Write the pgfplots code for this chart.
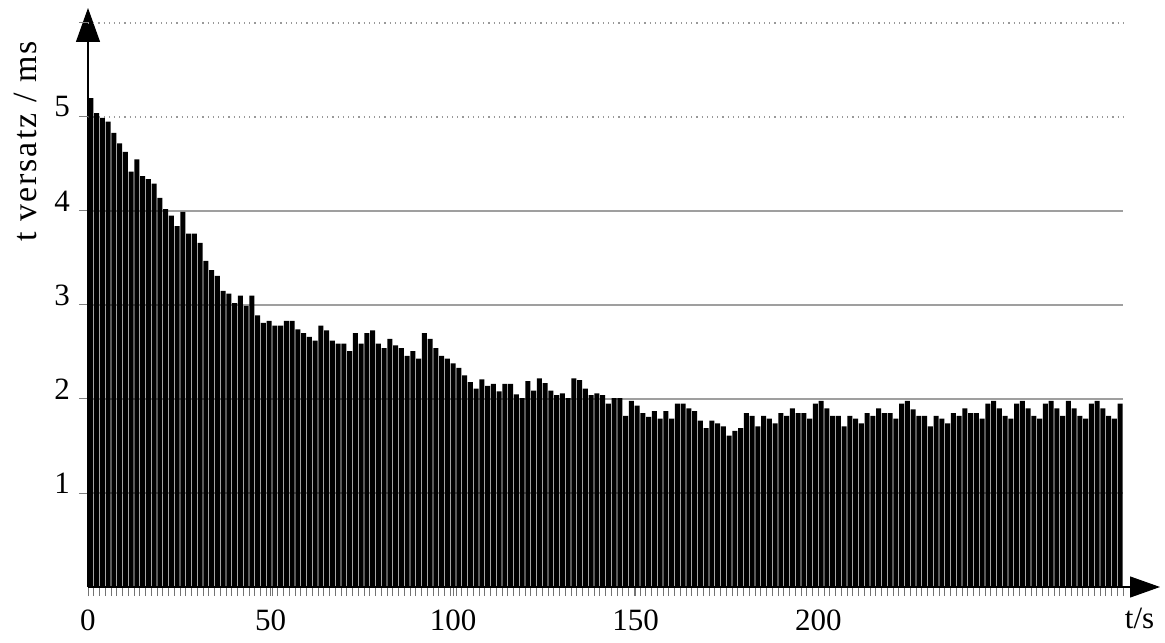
\documentclass[border=0pt]{standalone}
\usepackage{fontspec}
\setmainfont{Liberation Serif}
\usepackage{pgfplots}
\pgfplotsset{compat=1.18}
\usetikzlibrary{arrows.meta}
\pgfplotstableread{
x y
0.5 5.20
1.5 5.04
2.5 4.99
3.5 4.95
4.5 4.83
5.5 4.72
6.5 4.63
7.5 4.42
8.5 4.55
9.5 4.37
10.5 4.34
11.5 4.29
12.5 4.14
13.5 4.02
14.5 3.95
15.5 3.84
16.5 3.99
17.5 3.76
18.5 3.76
19.5 3.66
20.5 3.47
21.5 3.37
22.5 3.31
23.5 3.15
24.5 3.12
25.5 3.02
26.5 3.10
27.5 2.99
28.5 3.10
29.5 2.89
30.5 2.81
31.5 2.83
32.5 2.78
33.5 2.78
34.5 2.83
35.5 2.83
36.5 2.74
37.5 2.70
38.5 2.66
39.5 2.62
40.5 2.78
41.5 2.73
42.5 2.62
43.5 2.59
44.5 2.59
45.5 2.51
46.5 2.70
47.5 2.59
48.5 2.70
49.5 2.73
50.5 2.59
51.5 2.54
52.5 2.64
53.5 2.57
54.5 2.54
55.5 2.46
56.5 2.51
57.5 2.43
58.5 2.70
59.5 2.64
60.5 2.54
61.5 2.46
62.5 2.43
63.5 2.38
64.5 2.33
65.5 2.25
66.5 2.18
67.5 2.11
68.5 2.21
69.5 2.14
70.5 2.16
71.5 2.08
72.5 2.16
73.5 2.16
74.5 2.05
75.5 2.01
76.5 2.19
77.5 2.09
78.5 2.22
79.5 2.17
80.5 2.09
81.5 2.04
82.5 2.06
83.5 2.01
84.5 2.22
85.5 2.20
86.5 2.11
87.5 2.04
88.5 2.06
89.5 2.04
90.5 1.95
91.5 2.01
92.5 2.01
93.5 1.82
94.5 1.98
95.5 1.93
96.5 1.85
97.5 1.81
98.5 1.87
99.5 1.79
100.5 1.87
101.5 1.79
102.5 1.95
103.5 1.95
104.5 1.90
105.5 1.87
106.5 1.77
107.5 1.69
108.5 1.77
109.5 1.74
110.5 1.71
111.5 1.61
112.5 1.66
113.5 1.69
114.5 1.85
115.5 1.82
116.5 1.71
117.5 1.82
118.5 1.79
119.5 1.74
120.5 1.85
121.5 1.82
122.5 1.90
123.5 1.85
124.5 1.85
125.5 1.79
126.5 1.95
127.5 1.98
128.5 1.90
129.5 1.82
130.5 1.82
131.5 1.71
132.5 1.82
133.5 1.79
134.5 1.74
135.5 1.85
136.5 1.82
137.5 1.90
138.5 1.85
139.5 1.85
140.5 1.79
141.5 1.95
142.5 1.98
143.5 1.89
144.5 1.82
145.5 1.82
146.5 1.71
147.5 1.82
148.5 1.79
149.5 1.74
150.5 1.85
151.5 1.82
152.5 1.90
153.5 1.85
154.5 1.85
155.5 1.79
156.5 1.95
157.5 1.98
158.5 1.90
159.5 1.82
160.5 1.79
161.5 1.95
162.5 1.98
163.5 1.90
164.5 1.82
165.5 1.79
166.5 1.95
167.5 1.98
168.5 1.90
169.5 1.82
170.5 1.98
171.5 1.90
172.5 1.82
173.5 1.79
174.5 1.95
175.5 1.98
176.5 1.90
177.5 1.82
178.5 1.79
179.5 1.95
}\bars
\begin{document}
\begin{tikzpicture}
\useasboundingbox (-44pt,-27.5pt) rectangle (538.5pt,293.5pt);
\begin{axis}[
  at={(0pt,0pt)}, anchor=south west,
  x=2.875pt, y=47pt,
  xmin=0, xmax=180, ymin=0, ymax=6,
  axis x line=bottom, axis y line=left,
  axis line style={line width=0.6pt, black},
  x axis line style={-{Triangle[length=15pt,width=10.5pt]}, shorten >=-18.5pt},
  y axis line style={-{Triangle[length=17pt,width=12pt]}, shorten >=-7.5pt},
  tick align=outside,
  major tick length=4.5pt, minor tick length=4.5pt,
  xtick={0,31.75,63.5,95.25,127},
  xticklabels={0,50,100,150,200},
  minor xtick={0,1,...,180},
  x tick style={black!55, line width=0.35pt},
  ytick={1,2,3,4},
  y tick style={gray, line width=0.5pt},
  extra y ticks={5,6},
  extra y tick labels={5,{}},
  extra y tick style={grid style={gray!80, dotted, line width=0.6pt}},
  ymajorgrids,
  grid style={gray!75, line width=0.6pt},
  /pgf/number format/assume math mode=true,
  ticklabel style={font=\fontsize{15.5}{17}\selectfont},
  xticklabel style={yshift=-3.5pt},
  yticklabel style={yshift=5pt, xshift=-1pt},
  xlabel={t/s},
  xlabel style={at={(axis description cs:1.016,0)}, anchor=base, yshift=-20.5pt, font=\fontsize{15.5}{17}\selectfont},
  ylabel={t versatz / ms},
  ylabel style={at={(axis description cs:-0.06,0.79)}, anchor=center, font=\fontsize{17}{19}\selectfont\addfontfeature{LetterSpace=6}},
  clip=false,
]
\addplot[ybar, bar width=0.88, fill=black, draw=none] table[x=x, y=y] {\bars};
\end{axis}
\end{tikzpicture}
\end{document}
